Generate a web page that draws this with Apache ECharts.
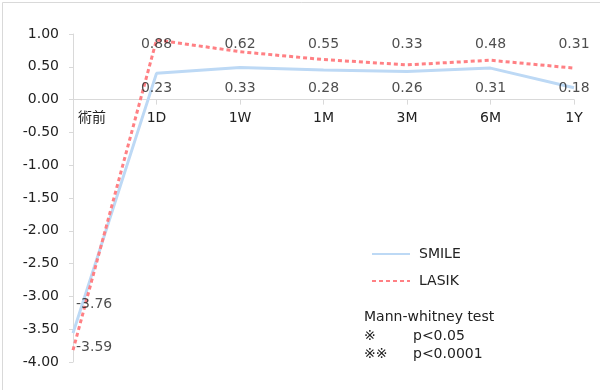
<!DOCTYPE html>
<html>
<head>
<meta charset="utf-8">
<script src="https://cdn.jsdelivr.net/npm/echarts@6/dist/echarts.min.js"></script>
<style>
html,body{margin:0;padding:0;background:#fff;}
#c{width:600px;height:390px;}
</style>
</head>
<body>
<div id="c"></div>
<script>
var categories = ['術前', '1D', '1W', '1M', '3M', '6M', '1Y'];
var smile = [-3.56, 0.40, 0.49, 0.45, 0.43, 0.48, 0.18];
var lasik = [-3.82, 0.91, 0.73, 0.61, 0.53, 0.60, 0.48];
var topLabels = ['', '0.88', '0.62', '0.55', '0.33', '0.48', '0.31'];
var bottomLabels = ['', '0.23', '0.33', '0.28', '0.26', '0.31', '0.18'];
var preLabels = ['-3.76', '-3.59'];
var yTicks = [-4, -3.5, -3, -2.5, -2, -1.5, -1, -0.5, 0, 0.5, 1];
var noteTitle = 'Mann-whitney test';
var noteMarks = ['※', '※※'];
var noteValues = ['p<0.05', 'p<0.0001'];

var FONT = '"DejaVu Sans", "Noto Sans CJK JP", sans-serif';
var FS = 14;
var TXT = '#222';
var chart = echarts.init(document.getElementById('c'));

function labelSeries(texts, level, pos) {
  var data = [];
  texts.forEach(function (t, i) { if (t !== '') data.push({ value: [i, level], txt: t }); });
  return {
    type: 'scatter', data: data, symbolSize: 0, silent: true, z: 5,
    label: {
      show: true, position: pos, offset: [0, 1], color: TXT, fontSize: FS, fontFamily: FONT,
      formatter: function (p) { return p.data.txt; }
    }
  };
}

var preData = [{ value: [0, -3.10], txt: preLabels[0] }, { value: [0, -3.76], txt: preLabels[1] }];

chart.setOption({
  animation: false,
  backgroundColor: '#fff',
  textStyle: { fontFamily: FONT },
  grid: { left: 73, right: 26, top: 34, bottom: 28, containLabel: false, outerBoundsMode: 'none' },
  xAxis: {
    type: 'category', data: categories, boundaryGap: false,
    offset: -262.4,
    axisLine: { onZero: false, lineStyle: { color: '#d9d9d9', width: 1 } },
    axisTick: { show: true, length: 5, alignWithLabel: true, lineStyle: { color: '#d9d9d9' } },
    axisLabel: {
      color: TXT, fontSize: FS, fontFamily: FONT, margin: 12, interval: 0,
      formatter: function (v, i) { return i === 0 ? '{f|' + v + '}' : v; },
      rich: { f: { color: TXT, fontSize: FS, fontFamily: FONT, padding: [0, 0, 0, 38] } }
    },
    splitLine: { show: false }
  },
  yAxis: {
    type: 'value', min: yTicks[0], max: yTicks[yTicks.length - 1], interval: 0.5,
    axisLine: { show: true, lineStyle: { color: '#d9d9d9', width: 1 } },
    axisTick: { show: true, length: 4, lineStyle: { color: '#d9d9d9' } },
    axisLabel: { color: TXT, fontSize: FS, fontFamily: FONT, margin: 14, padding: [2, 0, 0, 0], formatter: function (v) { return v.toFixed(2); } },
    splitLine: { show: false }
  },
  legend: {
    orient: 'vertical', left: 366, top: 242, itemWidth: 38, itemHeight: 14, itemGap: 13,
    itemStyle: { opacity: 0 },
    textStyle: { color: TXT, fontSize: FS, fontFamily: FONT, padding: [0, 0, 0, 4] },
    data: ['SMILE', 'LASIK']
  },
  series: [
    {
      name: 'SMILE', type: 'line', data: smile, symbol: 'none', z: 2,
      lineStyle: { color: '#bdd9f5', width: 3 }, itemStyle: { color: '#bdd9f5' }
    },
    {
      name: 'LASIK', type: 'line', data: lasik, symbol: 'none', z: 3,
      lineStyle: { color: '#ff8084', width: 3, type: [4, 3] }, itemStyle: { color: '#ff8084' }
    },
    labelSeries(topLabels, 0.85, 'inside'),
    labelSeries(bottomLabels, 0.18, 'inside'),
    {
      type: 'scatter', data: preData, symbolSize: 0, silent: true, z: 5,
      label: { show: true, position: 'right', distance: 3, offset: [0, 1], color: TXT, fontSize: FS, fontFamily: FONT,
        formatter: function (p) { return p.data.txt; } }
    }
  ],
  graphic: [
    { type: 'rect', left: 0, top: 0, shape: { x: 0.5, y: 0.5, width: 599, height: 389 }, style: { fill: 'none', stroke: '#d9d9d9', lineWidth: 1 }, silent: true },
    { type: 'text', left: 364, top: 310, style: { text: noteTitle, fill: TXT, font: FS + 'px ' + FONT } },
    { type: 'text', left: 364, top: 329, style: { text: noteMarks[0], fill: TXT, font: FS + 'px ' + FONT } },
    { type: 'text', left: 413, top: 329, style: { text: noteValues[0], fill: TXT, font: FS + 'px ' + FONT } },
    { type: 'text', left: 364, top: 347, style: { text: noteMarks[1], fill: TXT, font: FS + 'px ' + FONT } },
    { type: 'text', left: 413, top: 347, style: { text: noteValues[1], fill: TXT, font: FS + 'px ' + FONT } }
  ]
});
</script>
</body>
</html>
